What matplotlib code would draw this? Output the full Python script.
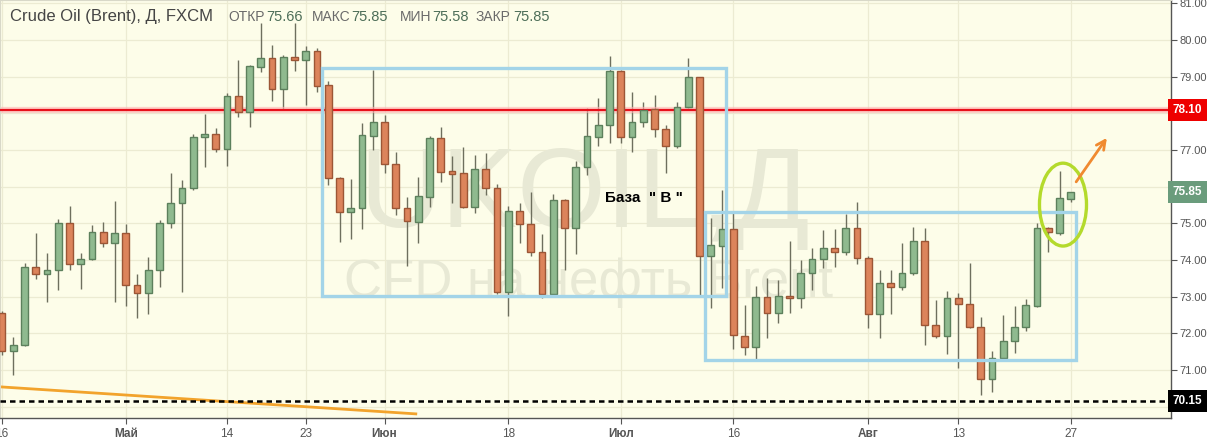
import matplotlib
matplotlib.use("Agg")
import matplotlib.pyplot as plt
from matplotlib.patches import Ellipse, Rectangle
import matplotlib.transforms as mtransforms

plt.rcParams['font.family'] = ['Liberation Sans', 'DejaVu Sans']

# ---- data (daily candles, 16 Apr .. 27 Aug 2018) ----
opens = [72.55, 71.52, 71.68, 73.81, 73.62, 73.73, 75.01, 73.89, 74.03, 74.76,
         74.46, 74.74, 73.32, 73.10, 73.73, 75.01, 75.55, 75.96, 77.35, 77.44,
         77.03, 78.47, 78.04, 79.26, 79.51, 78.66, 79.54, 79.45, 79.70, 78.77,
         76.24, 75.31, 75.42, 77.38, 77.76, 76.62, 75.42, 75.04, 75.72, 77.33,
         76.43, 76.37, 75.45, 76.48, 75.96, 73.13, 75.34, 74.98, 74.22, 73.07,
         75.64, 74.87, 76.54, 77.35, 77.68, 79.15, 77.35, 77.76, 78.12, 77.57,
         77.11, 78.17, 78.99, 74.11, 74.38, 74.85, 71.93, 71.63, 72.99, 72.56,
         73.02, 72.96, 73.65, 74.03, 74.33, 74.22, 74.87, 74.05, 72.53, 73.37,
         73.26, 73.65, 74.52, 72.23, 71.93, 72.96, 72.80, 72.17, 70.76, 71.33,
         71.79, 72.17, 72.75, 74.87, 74.74, 75.66]
highs = [72.60, 71.90, 73.92, 74.74, 74.19, 75.12, 75.47, 74.19, 74.95, 75.04,
         75.61, 74.98, 73.62, 74.08, 75.09, 76.37, 76.18, 77.44, 77.98, 77.60,
         78.55, 79.45, 79.32, 80.46, 79.86, 79.59, 80.46, 79.84, 79.78, 78.88,
         76.26, 76.21, 77.74, 79.18, 77.95, 76.95, 75.72, 76.26, 77.38, 77.63,
         76.84, 77.08, 76.86, 76.92, 76.07, 75.47, 75.55, 75.86, 74.71, 75.80,
         75.66, 76.70, 78.15, 78.42, 79.56, 79.17, 78.58, 78.31, 78.50, 77.68,
         78.31, 79.51, 79.00, 75.15, 75.91, 75.34, 72.77, 73.29, 73.51, 73.45,
         74.52, 74.00, 74.33, 74.82, 74.85, 75.25, 75.58, 74.11, 73.73, 73.73,
         74.46, 74.90, 74.87, 72.91, 73.15, 73.10, 73.92, 72.45, 71.52, 72.50,
         72.75, 72.94, 75.01, 74.90, 76.43, 75.85]
lows = [71.40, 70.86, 71.65, 73.48, 72.86, 73.18, 73.73, 73.21, 74.00, 74.35,
        72.86, 72.75, 72.42, 72.53, 73.26, 74.87, 73.13, 75.90, 76.54, 76.95,
        76.56, 77.90, 77.63, 79.13, 78.34, 78.12, 79.15, 78.23, 78.58, 76.05,
        74.49, 74.57, 74.85, 77.00, 76.37, 75.23, 73.84, 74.46, 75.45, 76.13,
        75.55, 75.43, 75.28, 75.77, 73.07, 72.47, 74.46, 74.11, 72.96, 73.05,
        73.73, 74.16, 76.32, 77.11, 77.19, 77.19, 76.95, 77.63, 77.35, 76.37,
        77.05, 78.15, 73.05, 72.69, 73.24, 71.57, 71.41, 71.30, 71.87, 72.28,
        72.56, 72.69, 73.18, 73.78, 73.81, 74.14, 73.89, 72.15, 71.87, 72.53,
        73.18, 73.59, 71.68, 71.87, 71.44, 71.06, 72.15, 70.32, 70.40, 71.30,
        71.46, 72.06, 72.72, 74.22, 74.68, 75.58]
closes = [71.52, 71.68, 73.81, 73.62, 73.73, 75.01, 73.89, 74.03, 74.76, 74.46,
          74.74, 73.32, 73.10, 73.73, 75.01, 75.55, 75.96, 77.35, 77.44, 77.03,
          78.47, 78.04, 79.29, 79.51, 78.66, 79.54, 79.45, 79.70, 78.75, 76.24,
          75.31, 75.42, 77.41, 77.76, 76.62, 75.42, 75.06, 75.75, 77.33, 76.40,
          76.35, 75.45, 76.48, 75.96, 73.13, 75.34, 74.98, 74.22, 73.07, 75.64,
          74.87, 76.54, 77.38, 77.68, 79.15, 77.35, 77.76, 78.09, 77.57, 77.11,
          78.17, 78.99, 74.11, 74.41, 74.85, 71.96, 71.63, 72.99, 72.56, 73.02,
          72.96, 73.65, 74.03, 74.33, 74.22, 74.87, 74.05, 72.53, 73.37, 73.26,
          73.65, 74.52, 72.23, 71.93, 72.96, 72.80, 72.17, 70.76, 71.33, 71.79,
          72.17, 72.77, 74.87, 74.76, 75.69, 75.85]

tick_pos = [0, 11, 20, 27, 34, 45, 55, 65, 77, 85, 95]
tick_labels = ['16', 'Май', '14', '23', 'Июн', '18', 'Июл', '16', 'Авг', '13', '27']
month_labels = ['Май', 'Июн', 'Июл', 'Авг']
price_ticks = [70, 71, 72, 73, 74, 75, 76, 77, 78, 79, 80, 81]

resistance = 78.10
support = 70.15
last_price = 75.85
header_vals = [('ОТКР', '75.66'), ('МАКС', '75.85'), ('МИН', '75.58'), ('ЗАКР', '75.85')]

# zones (start idx, end idx, low, high)
zone_a = (28.44, 64.36, 73.02, 79.24)
zone_b = (62.49, 95.47, 71.27, 75.31)
trend_x = [-0.18, 36.9]
trend_y = [70.54, 69.80]

# ---- style ----
BG = '#fdfde9'
GRID = '#ecebd2'
UP_FILL, UP_EDGE = '#8fba8f', '#5c805c'
DN_FILL, DN_EDGE = '#dc845b', '#9c5636'
WICK = '#6e6f5e'

fig = plt.figure(figsize=(12.11, 4.40), dpi=100)
fig.patch.set_facecolor('white')
ax = fig.add_axes([0.0, 22 / 440, 1171 / 1211, 1 - 22 / 440])
ax.set_facecolor(BG)

ax.set_xlim(-0.18, 103.9)
ax.set_ylim(69.69, 81.09)

# grid
for p in price_ticks:
    ax.axhline(p, color=GRID, lw=0.9, zorder=0.2)
for t in tick_pos:
    ax.axvline(t, color=GRID, lw=0.9, zorder=0.2)

# watermark
ax.text(51.8, 75.69, 'UKOIL,Д', fontsize=82, color='#e8e9d5', ha='center', va='center', zorder=0.3)
ax.text(52.1, 73.37, 'CFD на нефть Brent', fontsize=38, color='#e8e9d5', ha='center', va='center', zorder=0.3)

# candles
w = 0.6
for i, (o, h, l, c) in enumerate(zip(opens, highs, lows, closes)):
    up = c >= o
    fc, ec = (UP_FILL, UP_EDGE) if up else (DN_FILL, DN_EDGE)
    ax.vlines(i, l, h, color=WICK, lw=1.0, zorder=2)
    bottom = min(o, c)
    height = max(abs(c - o), 0.06)
    ax.add_patch(Rectangle((i - w / 2, bottom), w, height, facecolor=fc, edgecolor=ec, lw=1.0, zorder=3))

# horizontal levels
ax.axhline(resistance, color='#ffb3b3', lw=4.5, alpha=0.6, zorder=2.5)
ax.axhline(resistance, color='#e8101a', lw=1.6, zorder=2.6)
ax.axhline(support, color='black', lw=1.8, ls=(0, (2.2, 1.6)), zorder=2.6)

# trend line
ax.plot(trend_x, trend_y, color='#f2a32c', lw=2.0, zorder=2.4, solid_capstyle='butt')

# zones
for (x0, x1, y0, y1) in (zone_a, zone_b):
    ax.add_patch(Rectangle((x0, y0), x1 - x0, y1 - y0, fill=False, edgecolor='#a3d4e8', lw=2.4, zorder=4))

ax.text(57.07, 75.69, 'База  " В "', fontsize=11, fontweight='bold', color='black',
        ha='center', va='center', zorder=5)

# ellipse and arrow
ax.add_patch(Ellipse((94.3, 75.51), 4.18, 2.26, fill=False, edgecolor='#b4da2c', lw=2.4, zorder=5))
ax.annotate('', xy=(98.2, 77.33), xytext=(95.47, 76.13),
            arrowprops=dict(arrowstyle='->', color='#f08a30', lw=2.0, mutation_scale=16,
                            shrinkA=0, shrinkB=0), zorder=5)

# axes styling
ax.yaxis.tick_right()
ax.set_yticks(price_ticks)
ax.set_yticklabels([f'{p:.2f}' for p in price_ticks])
ax.tick_params(axis='y', colors='#555555', labelsize=8, length=4, width=0.8, pad=2, labelcolor='#555555')
ax.set_xticks(tick_pos)
ax.set_xticklabels(tick_labels)
ax.tick_params(axis='x', colors='#555555', labelsize=8.5, length=4, width=0.8, pad=3, labelcolor='#555555')
for lbl in ax.get_xticklabels():
    if lbl.get_text() in month_labels:
        lbl.set_fontweight('bold')
for s in ('right', 'bottom'):
    ax.spines[s].set_color('#555555')
    ax.spines[s].set_linewidth(1.0)
for s in ('left', 'top'):
    ax.spines[s].set_color('#d8d8c8')
    ax.spines[s].set_linewidth(0.8)

# price labels on the right axis
trans = mtransforms.blended_transform_factory(ax.transAxes, ax.transData)
for val, fc in ((resistance, '#ee0000'), (last_price, '#6a9c7c'), (support, '#000000')):
    ax.text(1.0015, val, f'{val:.2f}', transform=trans, fontsize=8.5, fontweight='bold',
            color='white', ha='left', va='center', clip_on=False, zorder=10,
            bbox=dict(boxstyle='square,pad=0.42', facecolor=fc, edgecolor='none'))

# header
fig.text(10 / 1211, 1 - 17 / 440, 'Crude Oil (Brent), Д, FXCM', fontsize=12, color='#454545',
         ha='left', va='center')
label_x = [228, 312, 400, 476]
value_x = [266, 351, 432, 513]
for (lab, val), lx, vx in zip(header_vals, label_x, value_x):
    fig.text(lx / 1211, 1 - 17 / 440, lab, fontsize=10, color='#6a6a6a', ha='left', va='center')
    fig.text(vx / 1211, 1 - 17 / 440, val, fontsize=10.5, color='#4d6e58', ha='left', va='center')

fig.savefig('out.png', dpi=100, facecolor='white')
